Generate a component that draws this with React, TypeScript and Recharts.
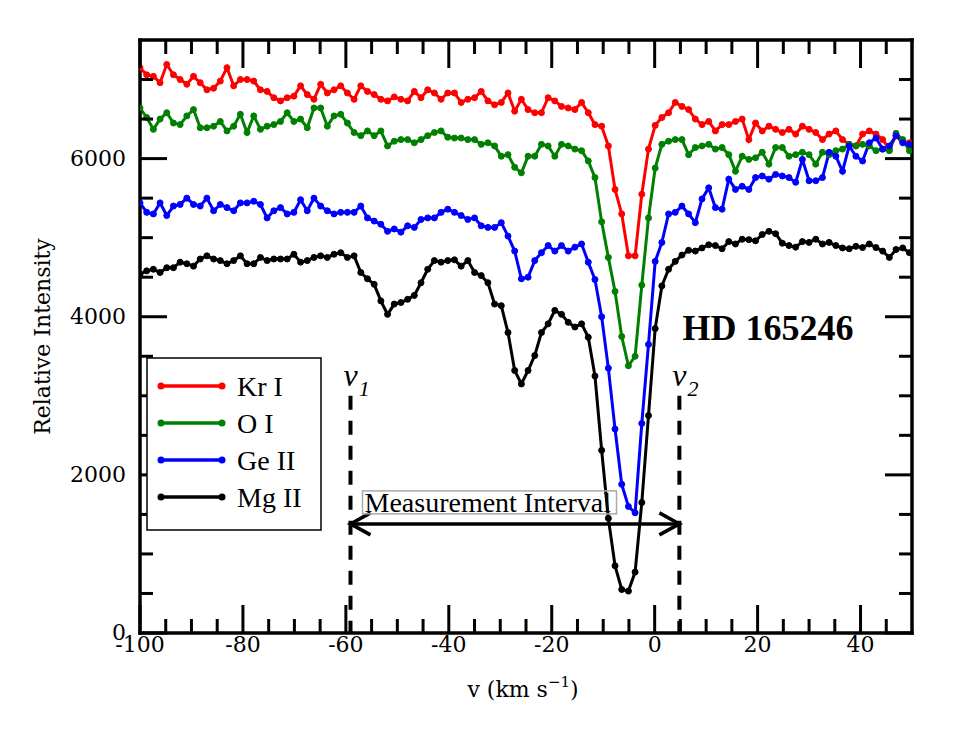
import { LineChart, Line, XAxis, YAxis, ReferenceLine, ReferenceDot, Legend } from "recharts";

// velocity grid (km/s)
const velocity = [
  -100, -98.7, -97.4, -96.1, -94.8, -93.5, -92.2, -90.9, -89.6, -88.3,
  -87, -85.7, -84.4, -83.1, -81.8, -80.5, -79.2, -77.9, -76.6, -75.3,
  -74, -72.7, -71.4, -70.1, -68.8, -67.5, -66.2, -64.9, -63.6, -62.3,
  -61, -59.7, -58.4, -57.1, -55.8, -54.5, -53.2, -51.9, -50.6, -49.3,
  -48, -46.7, -45.4, -44.1, -42.8, -41.5, -40.2, -38.9, -37.6, -36.3,
  -35, -33.7, -32.4, -31.1, -29.8, -28.5, -27.2, -25.9, -24.6, -23.3,
  -22, -20.7, -19.4, -18.1, -16.8, -15.5, -14.2, -12.9, -11.6, -10.3,
  -9, -7.7, -6.4, -5.1, -3.8, -2.5, -1.2, 0.1, 1.4, 2.7,
  4, 5.3, 6.6, 7.9, 9.2, 10.5, 11.8, 13.1, 14.4, 15.7,
  17, 18.3, 19.6, 20.9, 22.2, 23.5, 24.8, 26.1, 27.4, 28.7,
  30, 31.3, 32.6, 33.9, 35.2, 36.5, 37.8, 39.1, 40.4, 41.7,
  43, 44.3, 45.6, 46.9, 48.2, 49.5,
];

const krI = [
  7150, 7060, 7040, 6960, 7190, 7060, 7000, 6940, 7040, 6960,
  6870, 6890, 6980, 7150, 6920, 7000, 7000, 6980, 6870, 6850,
  6770, 6730, 6770, 6790, 6920, 6810, 6750, 6940, 6830, 6870,
  6920, 6830, 6750, 6920, 6850, 6810, 6750, 6730, 6780, 6750,
  6730, 6850, 6770, 6870, 6830, 6750, 6830, 6830, 6710, 6750,
  6770, 6850, 6730, 6680, 6710, 6830, 6600, 6750, 6620, 6580,
  6580, 6770, 6730, 6660, 6640, 6620, 6710, 6580, 6430, 6410,
  6160, 5610, 5300, 4770, 4770, 5550, 6120, 6420, 6520, 6580,
  6710, 6660, 6620, 6500, 6430, 6470, 6350, 6430, 6430, 6470,
  6500, 6240, 6450, 6350, 6410, 6370, 6330, 6370, 6310, 6410,
  6370, 6330, 6240, 6310, 6350, 6240, 6180, 6160, 6310, 6350,
  6310, 6240, 6120, 6290, 6220, 6200,
];

const oI = [
  6640, 6520, 6370, 6500, 6580, 6450, 6430, 6540, 6620, 6390,
  6390, 6410, 6470, 6350, 6410, 6560, 6330, 6540, 6370, 6410,
  6430, 6470, 6580, 6470, 6500, 6390, 6640, 6640, 6410, 6540,
  6560, 6450, 6330, 6290, 6350, 6290, 6350, 6160, 6220, 6240,
  6240, 6200, 6240, 6290, 6330, 6350, 6270, 6260, 6260, 6240,
  6240, 6180, 6200, 6160, 6030, 6050, 5890, 5820, 6030, 6030,
  6180, 6160, 6030, 6180, 6160, 6120, 6100, 5970, 5760, 5200,
  4750, 4320, 3750, 3380, 3500, 4400, 5250, 5880, 6180, 6220,
  6240, 6240, 6050, 6140, 6160, 6180, 6120, 6140, 6050, 5840,
  6030, 5990, 6010, 6080, 5930, 6140, 6140, 6030, 6050, 6080,
  6050, 5930, 6080, 6050, 6100, 6120, 6180, 6160, 6180, 6160,
  6100, 6120, 6100, 6320, 6240, 6100,
];

const geII = [
  5440, 5320, 5300, 5440, 5280, 5400, 5420, 5500, 5420, 5400,
  5500, 5340, 5420, 5380, 5340, 5440, 5440, 5460, 5420, 5250,
  5340, 5380, 5300, 5320, 5480, 5340, 5500, 5400, 5340, 5300,
  5320, 5320, 5320, 5400, 5250, 5210, 5170, 5080, 5110, 5070,
  5150, 5130, 5230, 5250, 5250, 5320, 5360, 5320, 5280, 5230,
  5250, 5150, 5130, 5130, 5190, 5020, 4830, 4480, 4500, 4710,
  4810, 4900, 4830, 4900, 4830, 4880, 4920, 4690, 4470, 4000,
  3350, 2580, 1880, 1600, 1520, 2650, 3650, 4700, 4940, 5300,
  5320, 5400, 5300, 5190, 5490, 5630, 5380, 5360, 5740, 5610,
  5650, 5610, 5760, 5780, 5740, 5800, 5780, 5760, 5700, 5990,
  5720, 5720, 5760, 6080, 6030, 5840, 6160, 6030, 5970, 6200,
  6260, 6120, 6160, 6290, 6200, 6180,
];

const mgII = [
  4540, 4580, 4600, 4560, 4620, 4620, 4690, 4670, 4640, 4730,
  4770, 4730, 4710, 4670, 4710, 4770, 4670, 4670, 4750, 4710,
  4730, 4730, 4730, 4790, 4690, 4710, 4750, 4770, 4750, 4790,
  4810, 4750, 4770, 4560, 4480, 4410, 4200, 4030, 4160, 4180,
  4220, 4270, 4430, 4600, 4710, 4690, 4710, 4720, 4640, 4710,
  4560, 4520, 4430, 4160, 4140, 3800, 3320, 3150, 3320, 3510,
  3800, 3910, 4080, 4030, 3930, 3870, 3910, 3740, 3250, 2310,
  1450, 850, 550, 530, 770, 1650, 2750, 3850, 4390, 4600,
  4700, 4780, 4840, 4830, 4870, 4910, 4900, 4860, 4950, 4920,
  4980, 4975, 4960, 5040, 5080, 5050, 4930, 4900, 4880, 4950,
  4940, 4980, 4920, 4940, 4900, 4870, 4860, 4890, 4875, 4920,
  4875, 4830, 4750, 4850, 4870, 4810,
];

const xMajorTicks = [-100, -80, -60, -40, -20, 0, 20, 40];
const xMinorTicks = [-95, -90, -85, -75, -70, -65, -55, -50, -45, -35, -30, -25, -15, -10, -5, 5, 10, 15, 25, 30, 35, 45];
const yMajorTicks = [0, 2000, 4000, 6000];
const yMinorTicks = [500, 1000, 1500, 2500, 3000, 3500, 4500, 5000, 5500, 6500, 7000];

// measurement interval limits
const v1 = -59.1;
const v2 = 4.8;
const intervalTop = 3000;
const arrowLevel = 1380;
const starName = "HD 165246";

const series = [
  { key: "kr", name: "Kr I", color: "#ff0000", values: krI },
  { key: "o", name: "O I", color: "#008000", values: oI },
  { key: "ge", name: "Ge II", color: "#0000ff", values: geII },
  { key: "mg", name: "Mg II", color: "#000000", values: mgII },
];

const data = velocity.map((v, i) => {
  const row: Record<string, number> = { v };
  series.forEach((s) => {
    row[s.key] = s.values[i];
  });
  return row;
});

const AXIS_FONT = '"DejaVu Serif", serif';
const TEXT_FONT = '"Liberation Serif", "Times New Roman", serif';
const X_DOMAIN: [number, number] = [-100, 50];
const Y_DOMAIN: [number, number] = [0, 7500];
const frame = { stroke: "#000", strokeWidth: 3.5, strokeLinecap: "square" as const };
const MAJOR = 28;
const MINOR = 14;

// tick marks point into the plot; labels only on bottom and left
function makeTick(side: "bottom" | "top" | "left" | "right") {
  return ({ x, y, payload }: any) => {
    const value = payload.value;
    const major = side === "bottom" || side === "top" ? xMajorTicks.includes(value) : yMajorTicks.includes(value);
    const len = major ? MAJOR : MINOR;
    let line;
    if (side === "bottom") line = <line x1={x} y1={y} x2={x} y2={y - len} />;
    else if (side === "top") line = <line x1={x} y1={y} x2={x} y2={y + len} />;
    else if (side === "left") line = <line x1={x} y1={y} x2={x + len - 1} y2={y} />;
    else line = <line x1={x} y1={y} x2={x - len + 1} y2={y} />;
    return (
      <g>
        <g stroke="#000" strokeWidth={3}>{line}</g>
        {major && side === "bottom" && (
          <text x={x} y={y + 19} textAnchor="middle" fontFamily={AXIS_FONT} fontSize={22} fill="#000">
            {value}
          </text>
        )}
        {major && side === "left" && (
          <text x={x - 14} y={y + 7} textAnchor="end" fontFamily={AXIS_FONT} fontSize={22} fill="#000">
            {value}
          </text>
        )}
      </g>
    );
  };
}

function XTitle({ cx, cy }: any) {
  return (
    <text x={cx - 3} y={cy + 64} textAnchor="middle" fontFamily={AXIS_FONT} fontSize={22} fill="#000">
      v (km s
      <tspan fontSize={15} dy={-10}>−1</tspan>
      <tspan dy={10}>)</tspan>
    </text>
  );
}

function YTitle({ cx, cy }: any) {
  const x = cx - 90;
  return (
    <text
      x={x}
      y={cy}
      transform={`rotate(-90, ${x}, ${cy})`}
      textAnchor="middle"
      fontFamily={AXIS_FONT}
      fontSize={22}
      fill="#000"
    >
      Relative Intensity
    </text>
  );
}

function StarLabel({ cx, cy }: any) {
  return (
    <text x={cx} y={cy} fontFamily={TEXT_FONT} fontWeight="bold" fontSize={36} fill="#000">
      {starName}
    </text>
  );
}

function limitLabel(sub: string) {
  return ({ cx, cy }: any) => (
    <text x={cx - 7} y={cy - 10} fontFamily={TEXT_FONT} fontStyle="italic" fontSize={32} fill="#000">
      v
      <tspan fontSize={22} dy={10} dx={1}>
        {sub}
      </tspan>
    </text>
  );
}

function IntervalLabel({ cx, cy }: any) {
  return (
    <g>
      <rect x={cx + 12} y={cy - 33} width={254} height={23} fill="none" stroke="#aaa" strokeWidth={1.5} />
      <text x={cx + 14} y={cy - 12} fontFamily={TEXT_FONT} fontSize={28} fill="#000">
        Measurement Interval
      </text>
    </g>
  );
}

function IntervalArrow({ x1, y1, x2, y2 }: any) {
  const head = 20;
  const spread = 11;
  return (
    <g stroke="#000" strokeWidth={3.5} fill="none">
      <line x1={x1} y1={y1} x2={x2} y2={y2} />
      <polyline points={`${x1 + head},${y1 - spread} ${x1},${y1} ${x1 + head},${y1 + spread}`} />
      <polyline points={`${x2 - head},${y2 - spread} ${x2},${y2} ${x2 - head},${y2 + spread}`} />
    </g>
  );
}

function LegendBox() {
  return (
    <svg width={176} height={175} style={{ display: "block" }}>
      <rect x={1} y={1} width={174} height={172} fill="#fff" stroke="#000" strokeWidth={1.5} />
      {series.map((s, i) => {
        const y = 29 + i * 37;
        return (
          <g key={s.key}>
            <line x1={15} y1={y} x2={79} y2={y} stroke={s.color} strokeWidth={3.5} />
            <circle cx={15} cy={y} r={3.5} fill={s.color} />
            <circle cx={76} cy={y} r={3.5} fill={s.color} />
            <text x={91} y={y + 10} fontFamily={TEXT_FONT} fontSize={28} fill="#000">
              {s.name}
            </text>
          </g>
        );
      })}
    </svg>
  );
}

const xTicks = [...xMajorTicks, ...xMinorTicks];
const yTicks = [...yMajorTicks, ...yMinorTicks];
const xCommon = {
  type: "number" as const,
  dataKey: "v",
  domain: X_DOMAIN,
  allowDataOverflow: true,
  height: 1,
  interval: 0 as const,
  ticks: xTicks,
  tickLine: false,
  tickSize: 0,
  tickMargin: 0,
  axisLine: frame,
};
const yCommon = {
  type: "number" as const,
  domain: Y_DOMAIN,
  allowDataOverflow: true,
  width: 1,
  interval: 0 as const,
  ticks: yTicks,
  tickLine: false,
  tickSize: 0,
  tickMargin: 0,
  axisLine: frame,
};
const ids = { xAxisId: "xb", yAxisId: "yl" };

export default function App() {
  return (
    <div style={{ position: "absolute", left: 0, top: 0, width: 957, height: 730, background: "#fff" }}>
      <LineChart width={957} height={730} data={data} margin={{ top: 39, right: 44, bottom: 96, left: 139 }}>
        <XAxis {...xCommon} xAxisId="xb" orientation="bottom" tick={makeTick("bottom")} />
        <XAxis {...xCommon} xAxisId="xt" orientation="top" tick={makeTick("top")} />
        <YAxis {...yCommon} yAxisId="yl" orientation="left" tick={makeTick("left")} />
        <YAxis {...yCommon} yAxisId="yr" orientation="right" tick={makeTick("right")} />

        {series.map((s) => (
          <Line
            key={s.key}
            {...ids}
            type="linear"
            dataKey={s.key}
            name={s.name}
            stroke={s.color}
            strokeWidth={3}
            dot={{ r: 3, fill: s.color, stroke: s.color, strokeWidth: 1 }}
            activeDot={false}
            isAnimationActive={false}
          />
        ))}

        <ReferenceLine {...ids} ifOverflow="visible" segment={[{ x: v1, y: intervalTop }, { x: v1, y: 0 }]} stroke="#000" strokeWidth={4} strokeDasharray="14 11" />
        <ReferenceLine {...ids} ifOverflow="visible" segment={[{ x: v2, y: intervalTop }, { x: v2, y: 0 }]} stroke="#000" strokeWidth={4} strokeDasharray="14 11" />
        <ReferenceLine {...ids} ifOverflow="visible" segment={[{ x: v1, y: arrowLevel }, { x: v2, y: arrowLevel }]} shape={IntervalArrow} />

        <ReferenceDot {...ids} ifOverflow="visible" x={v1} y={arrowLevel} r={1} shape={IntervalLabel} />
        <ReferenceDot {...ids} ifOverflow="visible" x={v1} y={intervalTop} r={1} shape={limitLabel("1")} />
        <ReferenceDot {...ids} ifOverflow="visible" x={v2} y={intervalTop} r={1} shape={limitLabel("2")} />
        <ReferenceDot {...ids} ifOverflow="visible" x={5.4} y={3700} r={1} shape={StarLabel} />
        <ReferenceDot {...ids} ifOverflow="visible" x={-25} y={0} r={1} shape={XTitle} />
        <ReferenceDot {...ids} ifOverflow="visible" x={-100} y={3750} r={1} shape={YTitle} />

        <Legend
          layout="horizontal"
          verticalAlign="middle"
          align="center"
          wrapperStyle={{ left: 146, top: 357, width: 176, height: 175 }}
          content={LegendBox}
        />
      </LineChart>
    </div>
  );
}
